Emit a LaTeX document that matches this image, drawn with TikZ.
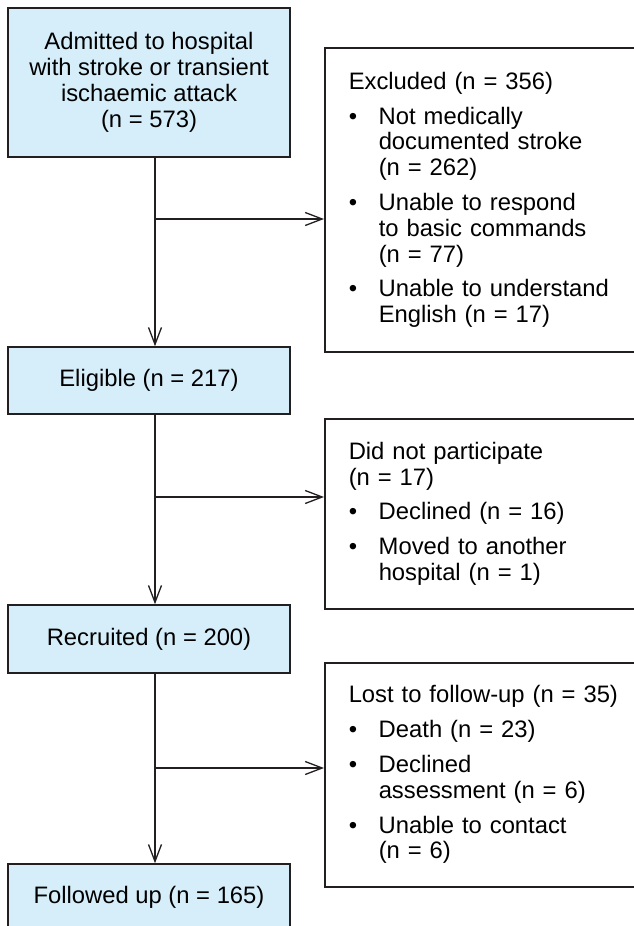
\documentclass[tikz,border=0pt]{standalone}
\usepackage{fontspec}
\setmainfont{Liberation Sans}
\usetikzlibrary{arrows.meta}
\definecolor{boxfill}{RGB}{213,238,250}
\definecolor{ink}{RGB}{35,31,32}
\newcommand{\bul}{\makebox[30pt][l]{\textbullet}}
\newcommand{\ind}{\hspace*{30pt}}
\begin{document}
\begin{tikzpicture}[x=1pt,y=-1pt,
  every node/.style={font=\fontsize{23.8}{25.8}\selectfont, text=black},
  mainbox/.style={draw=ink, line width=1.5pt, fill=boxfill, minimum width=282pt, inner sep=0pt, align=center},
  sidebox/.style={draw=ink, line width=1.5pt, fill=white, anchor=north west, inner xsep=24pt, inner ysep=0pt, text width=352pt, align=left},
  conn/.style={draw=ink, line width=1.3pt},
  tip/.style={-{Straight Barb[length=17pt,width=13pt]}}]
\path[use as bounding box, clip] (0,0) rectangle (634,926);

% main flow boxes
\node[mainbox, minimum height=149pt] (adm) at (149,82.5) {Admitted to hospital\\with stroke or transient\\ischaemic attack\\(n = 573)};
\node[mainbox, minimum height=67pt] (elig) at (149,380.5) {Eligible (n = 217)};
\node[mainbox, minimum height=68pt] (rec) at (149,639) {Recruited (n = 200)};
\node[mainbox, minimum height=67pt] (fol) at (149,897.5) {Followed up (n = 165)};

% side boxes
\node[sidebox, minimum height=304pt] (exc) at (324,47) {Excluded (n = 356)\\[9pt]
\bul Not medically\\ \ind documented stroke\\ \ind (n = 262)\\[9pt]
\bul Unable to respond\\ \ind to basic commands\\ \ind (n = 77)\\[9pt]
\bul Unable to understand\\ \ind English (n = 17)};
\node[sidebox, minimum height=190pt] (dnp) at (324,418) {Did not participate\\(n = 17)\\[9pt]
\bul Declined (n = 16)\\[9pt]
\bul Moved to another\\ \ind hospital (n = 1)};
\node[sidebox, minimum height=224pt] (lost) at (324,662) {Lost to follow-up (n = 35)\\[9pt]
\bul Death (n = 23)\\[9pt]
\bul Declined\\ \ind assessment (n = 6)\\[9pt]
\bul Unable to contact\\ \ind (n = 6)};

% junctions
\coordinate (j1) at (155,219);
\coordinate (j2) at (155,497);
\coordinate (j3) at (155,768);

% connectors
\draw[conn, tip] ([xshift=6pt]adm.south) -- ([xshift=6pt]elig.north);
\draw[conn, tip] (j1) -- (j1 -| exc.west);
\draw[conn, tip] ([xshift=6pt]elig.south) -- ([xshift=6pt]rec.north);
\draw[conn, tip] (j2) -- (j2 -| dnp.west);
\draw[conn, tip] ([xshift=6pt]rec.south) -- ([xshift=6pt]fol.north);
\draw[conn, tip] (j3) -- (j3 -| lost.west);
\end{tikzpicture}
\end{document}
